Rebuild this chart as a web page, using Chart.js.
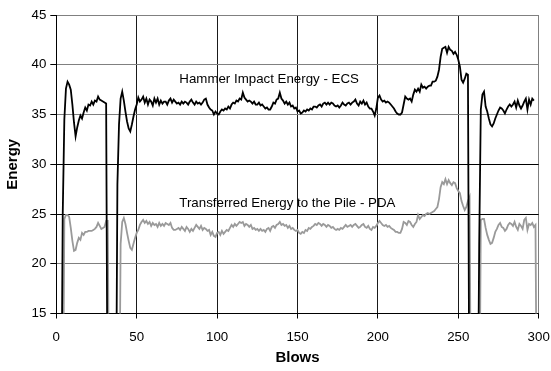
<!DOCTYPE html>
<html lang="en">
<head>
    <meta charset="UTF-8">
    <title>Energy per Blow</title>
    <script src="https://cdn.jsdelivr.net/npm/chart.js"></script>
    <style>
        body {
            margin: 0;
            background: #fff;
        }
        .chart-box {
            width: 551px;
            height: 371px;
        }
    </style>
</head>
<body>
    <div class="chart-box">
        <canvas id="energyChart" width="551" height="371"></canvas>
    </div>

    <script>
        // Hammer energy measured by ECS, one value per blow (0 = no reading)
        const ecsEnergy = [
            0, 0, 0, 0, 25, 34.5, 37.6, 38.3, 38.0, 37.5,
            36.0, 34.2, 32.8, 33.7, 34.4, 34.9, 34.6, 35.2, 35.7, 35.4,
            36.0, 35.9, 36.3, 36.0, 36.4, 36.3, 36.8, 36.5, 36.4, 36.3,
            36.2, 36.1, 0, 0, 0, 0, 0, 0, 28, 34,
            36.6, 37.3, 36.4, 35.3, 34.3, 33.6, 33.3, 34.0, 34.8, 35.5,
            36.0, 36.7, 36.3, 36.5, 36.8, 36.2, 36.6, 36.0, 36.5, 36.3,
            35.9, 36.6, 36.2, 36.6, 36.0, 36.4, 36.1, 36.3, 36.3, 36.0,
            36.4, 36.6, 36.2, 36.5, 36.3, 36.1, 36.2, 36.0, 36.3, 36.1,
            36.3, 36.2, 36.0, 36.3, 36.5, 36.2, 36.0, 36.3, 36.1, 36.2,
            36.0, 36.2, 36.5, 36.6, 36.0, 35.7, 35.5, 35.4, 35.0, 35.3,
            35.1, 35.0, 35.3, 35.5, 35.4, 35.6, 35.5, 35.8, 35.6, 36.0,
            36.2, 36.1, 36.4, 36.3, 36.6, 36.5, 37.2, 36.7, 36.5, 36.3,
            36.4, 36.3, 36.1, 36.3, 36.0, 36.0, 36.2, 35.9, 36.0, 35.8,
            35.6, 35.7, 35.5, 35.5, 35.8, 36.2, 36.1, 36.5, 36.6, 37.2,
            36.6, 36.4, 36.1, 36.3, 36.0, 36.2, 35.8, 35.9, 35.6, 35.7,
            35.3, 35.4, 35.1, 35.2, 35.4, 35.3, 35.5, 35.4, 35.6, 35.5,
            35.8, 35.8, 35.7, 35.9, 36.0, 35.8, 36.1, 36.2, 36.0, 36.2,
            36.0, 36.2, 36.1, 35.9, 35.8, 35.9, 35.7, 35.9, 36.2, 36.0,
            35.9, 36.1, 36.2, 36.0, 36.2, 36.3, 36.5, 36.1, 35.9, 36.3,
            36.1, 36.4, 36.0, 36.2, 35.8, 35.6, 35.6, 35.3, 34.9, 35.6,
            36.7, 36.9, 36.5, 36.3, 36.4, 36.2, 36.3, 36.2, 36.0, 35.8,
            35.6, 35.3, 35.1, 35.0, 35.0, 35.2, 36.0, 36.8, 36.6, 36.5,
            36.6, 36.3, 37.0, 37.5, 37.3, 37.6, 37.3, 38.0, 37.7, 37.8,
            37.6, 37.8, 37.9, 37.9, 38.3, 38.3, 38.4, 38.8, 39.5, 40.8,
            41.6, 41.7, 41.8, 41.2, 41.8, 41.5, 41.4, 41.1, 41.3, 41.0,
            40.5, 39.8, 38.5, 38.2, 38.6, 39.1, 39.0, 0, 0, 0,
            0, 0, 0, 22, 35.5, 37.0, 37.3, 35.8, 35.3, 34.6,
            34.0, 33.8, 34.1, 34.6, 35.0, 35.4, 35.7, 35.6, 35.4, 35.1,
            35.5, 35.8, 36.0, 35.8, 36.0, 36.3, 35.7, 36.4, 35.9, 35.6,
            35.9, 36.3, 36.6, 35.5, 36.5, 36.0, 36.6, 36.4
        ];

        // Energy transferred to the pile measured by PDA
        const pdaEnergy = [
            0, 0, 0, 0, 0, 24.5, 24.9, 24.9, 24.7, 23.6,
            22.3, 21.3, 21.4, 22.1, 22.6, 22.4, 23.1, 22.9, 23.2, 23.2,
            23.3, 23.3, 23.3, 23.4, 23.5, 23.7, 24.1, 23.8, 23.5, 23.6,
            23.7, 24.3, 24.3, 0, 0, 0, 0, 0, 0, 0,
            22, 24.2, 24.6, 24.0, 23.1, 22.3, 21.6, 21.4, 22.0, 22.6,
            23.1, 23.4, 23.9, 24.2, 24.4, 24.1, 24.3, 24.0, 24.2, 23.8,
            24.1, 23.9, 24.0, 23.7, 24.1, 23.8, 24.0, 23.8, 24.1, 24.0,
            23.9, 24.1, 23.6, 23.4, 23.4, 23.5, 23.6, 23.4, 23.7, 23.5,
            23.3, 23.7, 23.5, 23.2, 23.5, 23.3, 23.6, 23.9, 23.7, 23.5,
            23.8, 23.4, 23.6, 23.5, 23.3, 23.4, 22.9, 23.2, 22.8, 22.7,
            23.1, 23.2, 22.9, 23.3, 23.0, 23.2, 23.4, 23.3, 23.6, 23.9,
            23.7, 24.0, 23.8, 24.0, 24.2, 24.1, 24.2, 23.8, 24.0, 23.9,
            23.7, 23.9, 23.5, 23.6, 23.4, 23.5, 23.3, 23.5, 23.3, 23.4,
            23.2, 23.5, 23.6, 23.3, 23.7, 23.8, 23.6, 23.9, 24.0, 24.2,
            23.9, 24.0, 23.8, 23.9, 23.6, 23.8, 23.5, 23.6, 23.4, 23.3,
            23.4, 23.1, 23.0, 23.2, 23.1, 23.4, 23.3, 23.6, 23.5, 23.7,
            23.8, 24.0, 23.9, 24.1, 24.0, 23.8, 24.0, 23.9, 23.7, 23.9,
            23.8, 23.6, 23.7, 23.5, 23.4, 23.5, 23.4, 23.6, 23.5, 23.7,
            23.9, 23.7, 23.8, 23.9, 23.7, 23.9, 24.0, 23.8, 23.6, 23.7,
            23.9, 24.0, 23.7, 23.6, 23.8, 23.5, 23.4, 23.7, 23.6, 23.8,
            24.1, 24.3, 24.1, 23.9, 23.8, 23.9, 23.7, 23.8, 23.6, 23.5,
            23.4, 23.2, 23.2, 23.1, 23.1, 23.5, 24.2, 24.1, 23.9, 24.3,
            24.2, 23.9, 23.7, 24.0, 24.2, 24.9, 24.5, 24.7, 24.9, 24.8,
            25.0, 25.1, 25.0, 25.1, 25.2, 25.3, 25.5, 25.7, 26.5, 27.7,
            28.2, 28.0, 28.5, 28.0, 28.4, 28.1, 27.9, 28.2, 28.1, 27.6,
            27.3, 27.1, 26.3, 25.8, 25.4, 25.7, 26.3, 26.7, 0, 0,
            0, 0, 0, 0, 24.4, 24.5, 24.5, 23.6, 22.9, 22.4,
            22.0, 22.1, 22.6, 23.2, 23.5, 23.9, 24.1, 23.7, 23.6, 23.3,
            23.5, 23.9, 24.1, 24.0, 23.8, 24.2, 23.7, 23.4, 24.0, 23.8,
            23.5, 24.4, 24.6, 23.4, 24.0, 23.9, 24.1, 23.7, 23.9, 0
        ];

        const seriesNames = ['Hammer Impact Energy - ECS', 'Transferred Energy to the Pile - PDA'];
        const xTicks = [0, 50, 100, 150, 200, 250, 300];
        const yTicks = [15, 20, 25, 30, 35, 40, 45];

        const tickFont = { family: '"Liberation Sans", Arial, sans-serif', size: 13.3 };
        const titleFont = { family: '"Liberation Sans", Arial, sans-serif', size: 15, weight: 'bold' };

        // blow number = position in the list
        const toPoints = arr => arr.map((v, i) => ({ x: i, y: v }));

        // series names are written inside the plot next to each line
        const seriesLabels = {
            id: 'seriesLabels',
            afterDatasetsDraw(chart) {
                const { ctx, scales } = chart;
                const spots = [[76.5, 38.14], [76.5, 25.73]];
                ctx.save();
                ctx.fillStyle = '#000';
                ctx.font = '13.3px "Liberation Sans", Arial, sans-serif';
                ctx.textAlign = 'left';
                ctx.textBaseline = 'alphabetic';
                seriesNames.forEach((name, i) => {
                    ctx.fillText(name, scales.x.getPixelForValue(spots[i][0]), scales.y.getPixelForValue(spots[i][1]));
                });
                ctx.restore();
            }
        };

        const ctx = document.getElementById('energyChart').getContext('2d');
        new Chart(ctx, {
            type: 'line',
            data: {
                datasets: [{
                    label: seriesNames[0],
                    data: toPoints(ecsEnergy),
                    borderColor: '#000',
                    borderWidth: 1.8
                }, {
                    label: seriesNames[1],
                    data: toPoints(pdaEnergy),
                    borderColor: '#9a9a9a',
                    borderWidth: 1.8
                }]
            },
            plugins: [seriesLabels],
            options: {
                responsive: false,
                animation: false,
                devicePixelRatio: 1,
                layout: { padding: { top: 15, right: 12.3, left: 0, bottom: 0 } },
                elements: {
                    point: { radius: 0 },
                    line: { tension: 0 }
                },
                plugins: {
                    legend: { display: false },
                    tooltip: { enabled: false }
                },
                scales: {
                    x: {
                        type: 'linear',
                        min: 0,
                        max: 300,
                        afterBuildTicks: s => { s.ticks = xTicks.map(v => ({ value: v })); },
                        // fixed axis box; end labels may hang past the plot edges
                        afterFit: s => {
                            s.height = 57.5;
                            s.paddingLeft = 0;
                            s.paddingRight = 0;
                        },
                        ticks: { color: '#000', font: tickFont, padding: 11, maxRotation: 0 },
                        grid: {
                            color: c => (c.tick && c.tick.value === 300 ? '#808080' : '#1a1a1a'),
                            tickColor: '#000',
                            tickLength: 5
                        },
                        border: { color: '#000' },
                        title: { display: true, text: 'Blows', color: '#000', font: titleFont, padding: { top: 4, bottom: 4 } }
                    },
                    y: {
                        min: 15,
                        max: 45,
                        afterBuildTicks: s => { s.ticks = yTicks.map(v => ({ value: v })); },
                        afterFit: s => { s.width = 56.3; },
                        ticks: { color: '#000', font: tickFont, padding: 4 },
                        grid: {
                            color: c => {
                                const v = c.tick && c.tick.value;
                                if (v === 15 || v === 25 || v === 30) return '#000';
                                return '#808080';
                            },
                            tickColor: '#000',
                            tickLength: 6
                        },
                        border: { color: '#000' },
                        title: { display: true, text: 'Energy', color: '#000', font: titleFont, padding: { top: 4, bottom: 2 } }
                    }
                }
            }
        });
    </script>
</body>
</html>
